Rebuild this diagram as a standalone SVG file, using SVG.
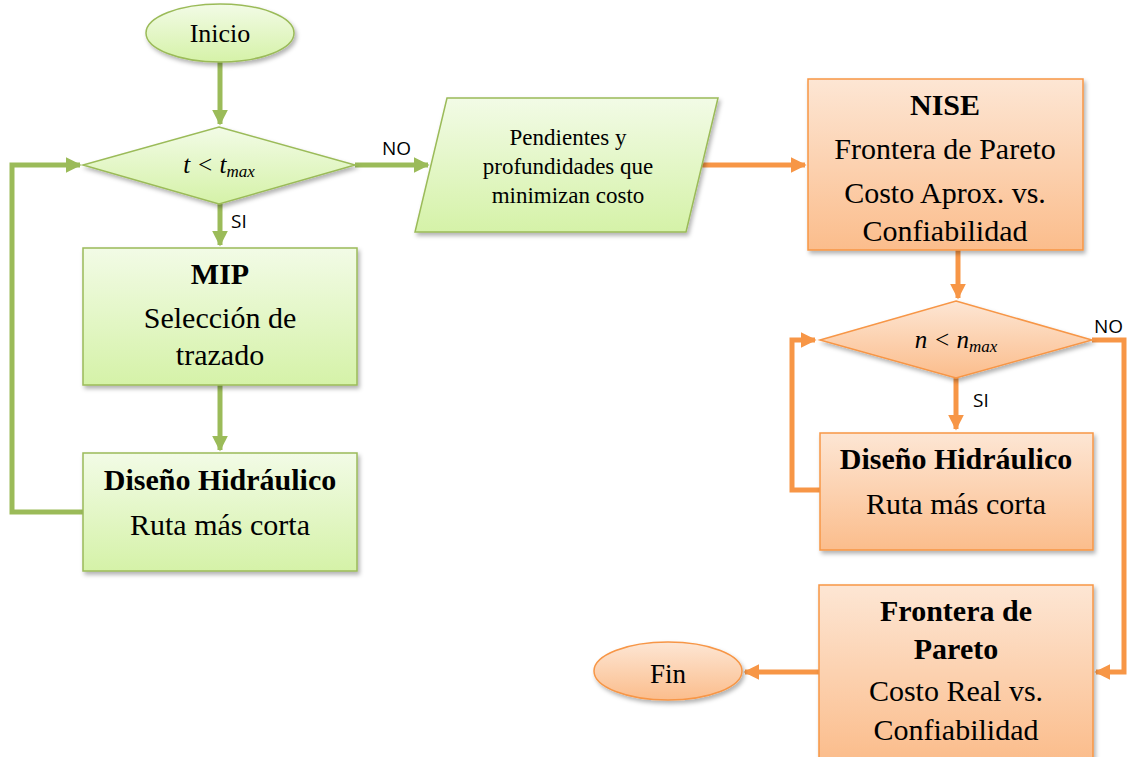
<svg xmlns="http://www.w3.org/2000/svg" width="1127" height="757" viewBox="0 0 1127 757">
<defs>
<linearGradient id="gG" x1="0" y1="0" x2="0" y2="1"><stop offset="0" stop-color="#f2fbe6"/><stop offset="1" stop-color="#d5f2a8"/></linearGradient>
<linearGradient id="gO" x1="0" y1="0" x2="0" y2="1"><stop offset="0" stop-color="#fde6d4"/><stop offset="1" stop-color="#fbbd8c"/></linearGradient>
<filter id="sh" x="-10%" y="-10%" width="125%" height="125%"><feDropShadow dx="2" dy="3" stdDeviation="2" flood-color="#000" flood-opacity="0.3"/></filter>
<marker id="aG" viewBox="0 0 10 10" refX="9" refY="5" markerWidth="3.2" markerHeight="3.2" orient="auto" markerUnits="strokeWidth"><path d="M0,0 L10,5 L0,10 z" fill="#9bbb59"/></marker>
<marker id="aO" viewBox="0 0 10 10" refX="9" refY="5" markerWidth="3.2" markerHeight="3.2" orient="auto" markerUnits="strokeWidth"><path d="M0,0 L10,5 L0,10 z" fill="#f79646"/></marker>
<style>
.g{fill:url(#gG);stroke:#9bbb59;stroke-width:1.5;filter:url(#sh)}
.o{fill:url(#gO);stroke:#f79646;stroke-width:1.5;filter:url(#sh)}
.cg{fill:none;stroke:#9bbb59;stroke-width:5;marker-end:url(#aG)}
.co{fill:none;stroke:#f79646;stroke-width:5;marker-end:url(#aO)}
text{font-family:"Liberation Serif",serif;fill:#000}
.t{text-anchor:middle}
.b{font-weight:bold}
.m{font-style:italic;font-size:25px;text-anchor:middle}
.l{font-family:"Open Sans","Liberation Sans",sans-serif;font-size:19px}
</style>
</defs>
<g id="connectors">
<path class="cg" d="M220,62 V124"/>
<path class="cg" d="M220,204 V245"/>
<path class="cg" d="M220,385 V450"/>
<path class="cg" d="M83,512 H12 V165 H80"/>
<path class="cg" d="M355,165 H428"/>
<path class="co" d="M702,165 H805"/>
<path class="co" d="M958,250 V298"/>
<path class="co" d="M956,378 V429"/>
<path class="co" d="M820,490 H792 V340 H815"/>
<path class="co" d="M1092,340 H1124 V672 H1096"/>
<path class="co" d="M819,672 H745"/>
<text class="l" x="382" y="155">NO</text>
<text class="l" x="231" y="228">SI</text>
<text class="l" x="973" y="407">SI</text>
<text class="l" x="1094" y="333">NO</text>
</g>
<g id="inicio">
<ellipse class="g" cx="220" cy="33" rx="74" ry="29"/>
<text class="t" x="220" y="42" font-size="26">Inicio</text>
</g>
<g id="dec1">
<polygon class="g" points="219,127 355,165 219,204 83,165"/>
<text class="m" x="219" y="173" xml:space="preserve">t &lt; t<tspan font-size="17" dy="4">max</tspan></text>
</g>
<g id="mip">
<rect class="g" x="83" y="248" width="274" height="137"/>
<text class="t b" x="220" y="284" font-size="30">MIP</text>
<text class="t" x="220" y="328" font-size="30">Selección de</text>
<text class="t" x="220" y="365" font-size="30">trazado</text>
</g>
<g id="diseno1">
<rect class="g" x="83" y="453" width="274" height="118"/>
<text class="t b" x="220" y="490" font-size="30">Diseño Hidráulico</text>
<text class="t" x="220" y="535" font-size="30">Ruta más corta</text>
</g>
<g id="pendientes">
<polygon class="g" points="447,98 718,98 686,232 415,232"/>
<text class="t" x="568" y="145" font-size="23">Pendientes y</text>
<text class="t" x="568" y="174" font-size="23">profundidades que</text>
<text class="t" x="568" y="203" font-size="23">minimizan costo</text>
</g>
<g id="nise">
<rect class="o" x="808" y="79" width="275" height="171"/>
<text class="t b" x="945" y="115" font-size="30">NISE</text>
<text class="t" x="945" y="159" font-size="30">Frontera de Pareto</text>
<text class="t" x="945" y="203" font-size="30">Costo Aprox. vs.</text>
<text class="t" x="945" y="241" font-size="30">Confiabilidad</text>
</g>
<g id="dec2">
<polygon class="o" points="956,301 1092,340 956,378 820,340"/>
<text class="m" x="956" y="348" xml:space="preserve">n &lt; n<tspan font-size="17" dy="4">max</tspan></text>
</g>
<g id="diseno2">
<rect class="o" x="820" y="433" width="273" height="117"/>
<text class="t b" x="956" y="469" font-size="30">Diseño Hidráulico</text>
<text class="t" x="956" y="514" font-size="30">Ruta más corta</text>
</g>
<g id="frontera">
<rect class="o" x="819" y="585" width="274" height="175"/>
<text class="t b" x="956" y="621" font-size="30">Frontera de</text>
<text class="t b" x="956" y="659" font-size="30">Pareto</text>
<text class="t" x="956" y="701" font-size="30">Costo Real vs.</text>
<text class="t" x="956" y="740" font-size="30">Confiabilidad</text>
</g>
<g id="fin">
<ellipse class="o" cx="668" cy="671" rx="74" ry="29"/>
<text class="t" x="668" y="683" font-size="27">Fin</text>
</g>
</svg>
